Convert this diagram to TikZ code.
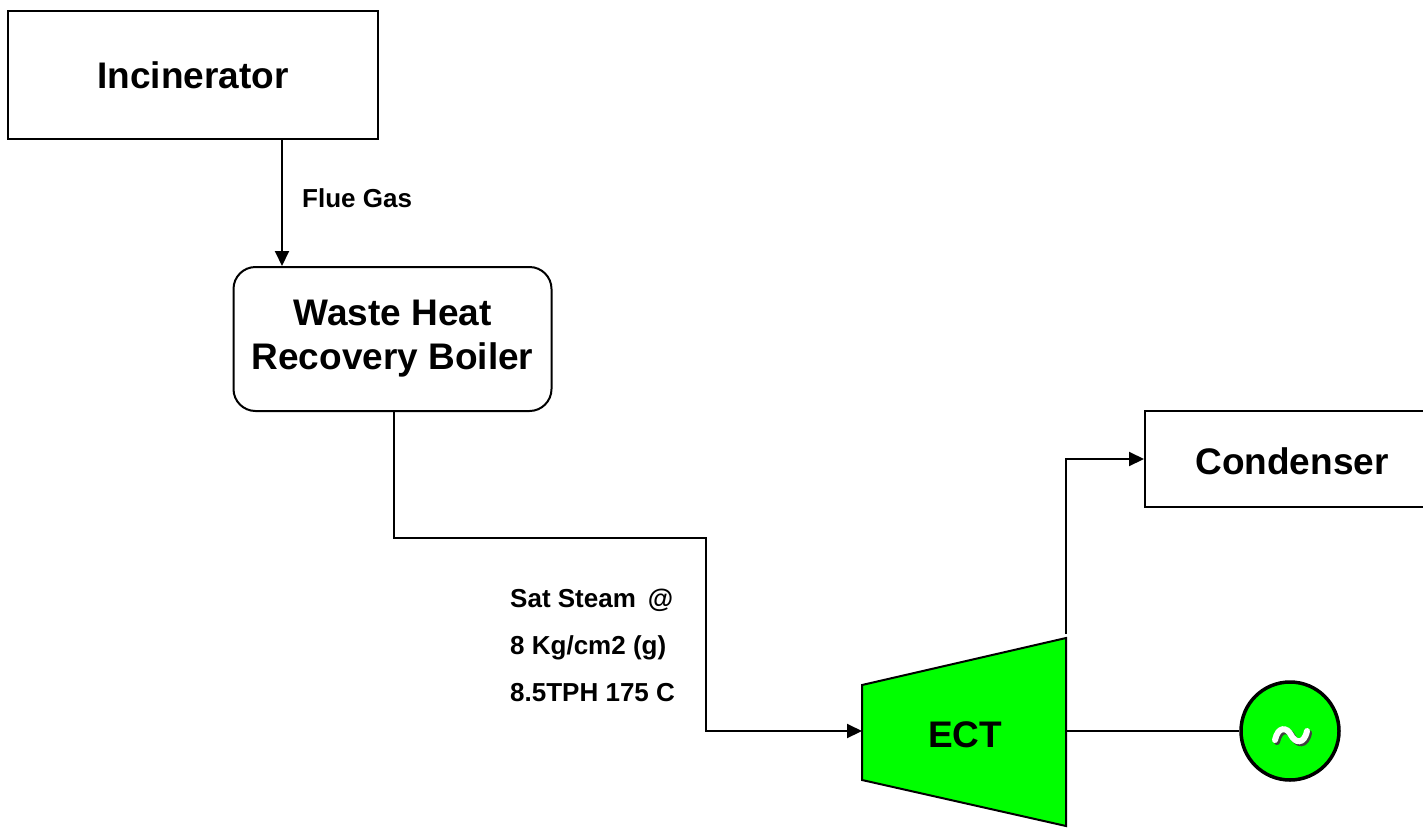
\documentclass[tikz,border=0pt]{standalone}
\usepackage{fontspec}
\setmainfont{Liberation Sans}
\usetikzlibrary{arrows.meta}
\definecolor{tgreen}{RGB}{0,255,0}
\tikzset{
  box/.style={draw, line width=2pt, rectangle, inner sep=0pt, font=\fontsize{37}{44}\selectfont\bfseries, align=center},
  conn/.style={line width=2pt},
  arr/.style={line width=2pt, -{Triangle[length=15pt,width=14pt]}},
  lbl/.style={font=\fontsize{26}{30}\selectfont\bfseries, inner sep=0pt, anchor=base west},
}
\begin{document}
\begin{tikzpicture}[x=1pt,y=-1pt]
\useasboundingbox (0,0) rectangle (1423,827);
% Incinerator
\node[box, minimum width=370pt, minimum height=128pt] (inc) at (193,75) {Incinerator};
% WHRB
\node[box, rounded corners=22pt, minimum width=318pt, minimum height=144pt] (whrb) at (392.5,339) {Waste Heat\\Recovery Boiler};
% Condenser
\node[box, minimum width=290pt, minimum height=96pt] (cond) at (1290,459) {};
\node[font=\fontsize{37}{44}\selectfont\bfseries] (condt) at (1292,461) {Condenser};
% ECT trapezoid
\draw[line width=2pt, fill=tgreen, line join=miter] (862,685) -- (1066,638) -- (1066,826) -- (862,780) -- cycle;
\node[font=\fontsize{37}{44}\selectfont\bfseries] (ect) at (965,735) {ECT};
\coordinate (ectin) at (862,731);
\coordinate (ectout) at (1066,634);
\coordinate (ectshaft) at (1066,731);
% Generator
\node[circle, draw, line width=3.5pt, fill=tgreen, minimum size=98pt, inner sep=0pt] (gen) at (1290,731) {};
\draw[line width=6pt, black!75, line cap=round, xshift=2pt, yshift=-2pt]
  (1275,740) .. controls (1278,726) and (1287,727) .. (1291,735) .. controls (1295,743) and (1304,745) .. (1307,731);
\draw[line width=6pt, white, line cap=round]
  (1275,740) .. controls (1278,726) and (1287,727) .. (1291,735) .. controls (1295,743) and (1304,745) .. (1307,731);
% connectors
\draw[arr] (inc.south -| 282,0) -- (whrb.north -| 282,0);
\node[lbl] (flue) at (302,207) {Flue Gas};
\coordinate (w1) at (394,538);
\coordinate (w2) at (706,538);
\coordinate (w3) at (706,731);
\draw[arr] (whrb.south -| w1) -- (w1) -- (w2) -- (w3) -- (ectin);
\node[lbl] (s1) at (510,607) {Sat Steam\hspace{12pt}@};
\node[lbl] (s2) at (510,654) {8 Kg/cm2 (g)};
\node[lbl] (s3) at (510,701) {8.5TPH 175 C};
\coordinate (c1) at (1066,459);
\draw[arr] (ectout) -- (c1) -- (cond.west);
\draw[conn] (ectshaft) -- (gen.west);
\end{tikzpicture}
\end{document}
